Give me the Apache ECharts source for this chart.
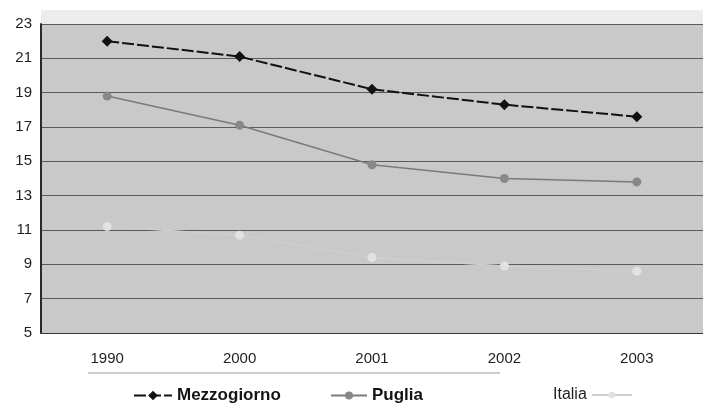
<!DOCTYPE html>
<html>
<head>
<meta charset="utf-8">
<script src="https://cdn.jsdelivr.net/npm/echarts@6/dist/echarts.min.js"></script>
<style>
  html, body { margin: 0; padding: 0; background: #ffffff; }
  #chart { width: 703px; height: 403px; }
</style>
</head>
<body>
<div id="chart"></div>
<script>
// Years on the category axis
const years = ['1990', '2000', '2001', '2002', '2003'];

// Series values (percent)
const mezzogiorno = [22.0, 21.1, 19.2, 18.3, 17.6];
const puglia = [18.8, 17.1, 14.8, 14.0, 13.8];
const italia = [11.2, 10.7, 9.4, 8.9, 8.6];

// Value axis ticks
const yTicks = [5, 7, 9, 11, 13, 15, 17, 19, 21, 23];

const chart = echarts.init(document.getElementById('chart'), null, { renderer: 'canvas' });

const font = 'Liberation Sans, Arial, sans-serif';
const legendText = { color: '#141414', fontFamily: font, fontSize: 17, fontWeight: 'bold' };

chart.setOption({
  animation: false,
  backgroundColor: '#ffffff',
  grid: {
    left: 41, top: 24, width: 670, height: 309,
    show: true, backgroundColor: '#c9c9c9', borderWidth: 0
  },
  graphic: [
    { type: 'rect', shape: { x: 41, y: 10, width: 662, height: 14 },
      style: { fill: '#ececec' }, silent: true },
    { type: 'line', shape: { x1: 88, y1: 373, x2: 500, y2: 373 },
      style: { stroke: '#9a9a9a', lineWidth: 1 }, silent: true }
  ],
  xAxis: {
    type: 'category',
    data: years,
    boundaryGap: true,
    axisLine: { show: true, lineStyle: { color: '#3a3a3a', width: 1 } },
    axisTick: { show: false },
    axisLabel: { color: '#1e1e1e', fontFamily: font, fontSize: 15, margin: 18 },
    splitLine: { show: false }
  },
  yAxis: {
    type: 'value',
    min: yTicks[0], max: yTicks[yTicks.length - 1], interval: 2,
    axisLine: { show: true, lineStyle: { color: '#2a2a2a', width: 2 } },
    axisTick: { show: false },
    axisLabel: { color: '#1e1e1e', fontFamily: font, fontSize: 15, margin: 9 },
    splitLine: { show: true, lineStyle: { color: '#5a5a5a', width: 1 } }
  },
  legend: [
    {
      data: ['Mezzogiorno'],
      left: 128, top: 382,
      itemWidth: 38, itemHeight: 12, itemGap: 5,
      textStyle: legendText
    },
    {
      data: ['Puglia'],
      left: 325, top: 382,
      itemWidth: 36, itemHeight: 10,
      textStyle: legendText
    },
    {
      data: ['Italia'],
      left: 548, top: 382, align: 'right',
      itemWidth: 40, itemHeight: 8,
      textStyle: { color: '#1e1e1e', fontFamily: font, fontSize: 16 }
    }
  ],
  series: [
    {
      name: 'Italia', type: 'line', data: italia,
      symbol: 'circle', symbolSize: 9,
      lineStyle: { color: '#cecece', width: 1.5 },
      itemStyle: { color: '#e2e2e2' },
      z: 2
    },
    {
      name: 'Puglia', type: 'line', data: puglia,
      symbol: 'circle', symbolSize: 9,
      lineStyle: { color: '#7a7a7a', width: 1.5 },
      itemStyle: { color: '#888888' },
      z: 3
    },
    {
      name: 'Mezzogiorno', type: 'line', data: mezzogiorno,
      symbol: 'diamond', symbolSize: 11,
      lineStyle: { color: '#111', width: 2, type: [12, 3] },
      itemStyle: { color: '#111' },
      z: 4
    }
  ]
});
</script>
</body>
</html>
